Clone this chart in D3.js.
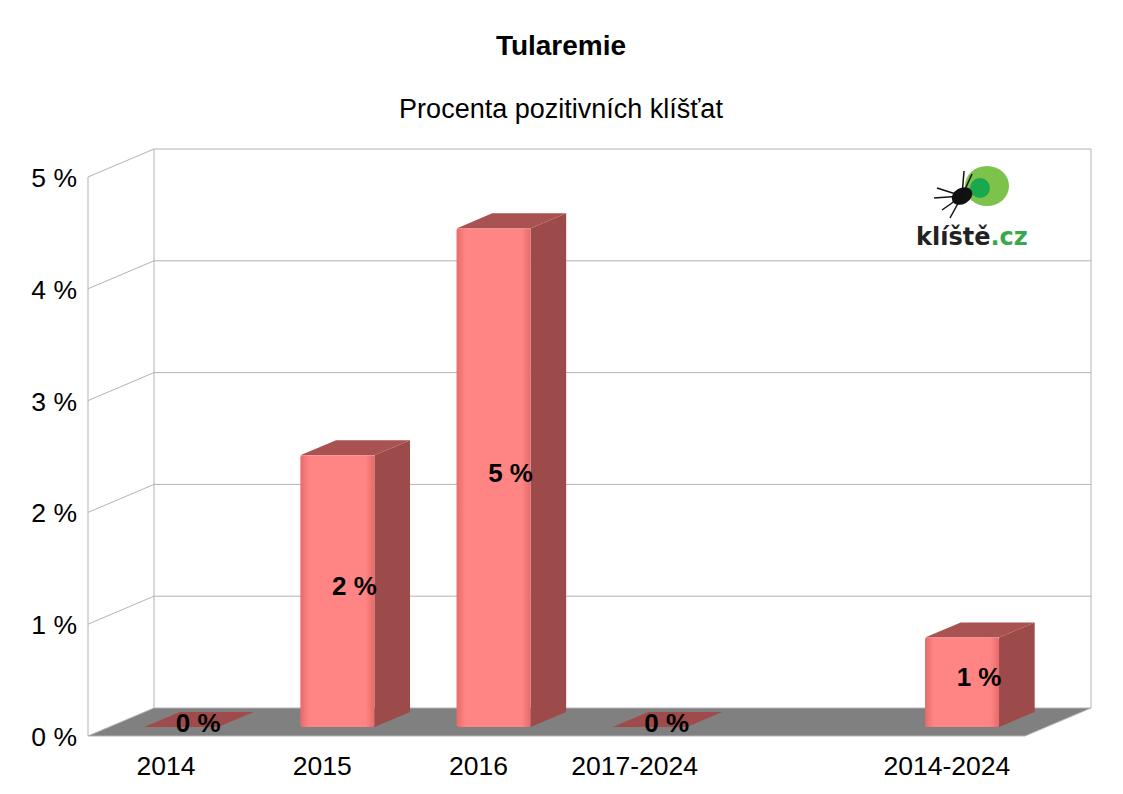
<!DOCTYPE html><html><head><meta charset="utf-8">
<script src="https://cdnjs.cloudflare.com/ajax/libs/d3/7.8.5/d3.min.js"></script>
<style>body{margin:0;background:#fff}</style></head><body>
<svg id="c" width="1123" height="794"></svg>
<script>
const categories=["2014","2015","2016","2017-2024","","2014-2024"];
const values=[0,2.43,4.46,0,null,0.8];
const labels=["0 %","2 %","5 %","0 %","","1 %"];
const ticks=[0,1,2,3,4,5];
const svg=d3.select("#c"),F="Liberation Sans, Arial, sans-serif";
const x0=88,x1=1025,yb=736,DX=66,DY=-28;
const y=d3.scaleLinear().domain([0,5]).range([736,177]);
const x=d3.scaleBand().domain(categories).range([x0,x1]);
svg.append("text").attr("x",561).attr("y",55).attr("text-anchor","middle").attr("font-family",F).attr("font-weight","bold").attr("font-size",28).text("Tularemie");
svg.append("text").attr("x",561).attr("y",118).attr("text-anchor","middle").attr("font-family",F).attr("font-size",27).text("Procenta pozitivních klíšťat");
svg.append("path").attr("d",`M${x0},${yb}L${x0+DX},${yb+DY}L${x1+DX},${yb+DY}L${x1},${yb}Z`).attr("fill","#808080");
const g="#b3b3b3";
svg.append("path").attr("d",`M${x0+DX},${yb+DY}V${y(5)+DY}M${x1+DX},${yb+DY}V${y(5)+DY}`).attr("stroke",g).attr("fill","none");
ticks.forEach(t=>{
  svg.append("path").attr("d",`M${x0},${y(t)}L${x0+DX},${y(t)+DY}H${x1+DX}`).attr("stroke",g).attr("fill","none");
  svg.append("text").attr("x",77).attr("y",y(t)+10).attr("text-anchor","end").attr("font-family",F).attr("font-size",26.5).text(t+" %");
});
svg.append("line").attr("x1",x0).attr("x2",x0).attr("y1",yb).attr("y2",y(5)).attr("stroke",g);
svg.append("line").attr("x1",x0).attr("x2",x1).attr("y1",yb).attr("y2",yb).attr("stroke",g);
svg.append("line").attr("x1",x1).attr("x2",x1+DX).attr("y1",yb).attr("y2",yb+DY).attr("stroke",g);
categories.forEach(c=>{ if(c) svg.append("text").attr("x",x(c)+x.bandwidth()/2).attr("y",775).attr("text-anchor","middle").attr("font-family",F).attr("font-size",26.5).text(c);});
const defs=svg.append("defs");
const lg=defs.append("linearGradient").attr("id","fr");
[[0,"#e86a6a"],[0.12,"#ff8585"],[0.88,"#ff8585"],[1,"#e86a6a"]].forEach(s=>lg.append("stop").attr("offset",s[0]).attr("stop-color",s[1]));
const f0=0.32,f1=0.86,bw=74;
categories.forEach((c,i)=>{
  const v=values[i]; if(v==null) return;
  const xl=x(c)+x.bandwidth()/2-37+DX*f0-6, xr=xl+bw;
  const ox=DX*(f1-f0), oy=DY*(f1-f0);
  const yf=yb+DY*f0, ht=y(v)-y(0), yt=yf+ht;
  if(v===0){
    svg.append("path").attr("d",`M${xl},${yf}L${xl+ox},${yf+oy}L${xr+ox},${yf+oy}L${xr},${yf}Z`).attr("fill","#a04b4b");
  } else {
    svg.append("path").attr("d",`M${xr},${yf}L${xr+ox},${yf+oy}V${yt+oy}L${xr},${yt}Z`).attr("fill","#9c4a4a");
    svg.append("path").attr("d",`M${xl},${yt}L${xl+ox},${yt+oy}H${xr+ox}L${xr},${yt}Z`).attr("fill","#a85252");
    svg.append("rect").attr("x",xl).attr("y",yt).attr("width",bw).attr("height",yf-yt).attr("fill","url(#fr)").attr("rx",2);
  }
  svg.append("text").attr("x",xl+bw/2+17).attr("y",v===0?yf+5:(yf+yt)/2+4).attr("text-anchor","middle").attr("font-family",F).attr("font-weight","bold").attr("font-size",26).text(labels[i]);
});
const L=svg.append("g");
L.append("ellipse").attr("cx",987).attr("cy",186).attr("rx",22).attr("ry",20).attr("fill","#7dc24a");
L.append("circle").attr("cx",980).attr("cy",188).attr("r",10).attr("fill","#1aa84f");
L.append("ellipse").attr("cx",962).attr("cy",196).attr("rx",11).attr("ry",8).attr("fill","#111").attr("transform","rotate(-30 962 196)");
[[-25,-8],[-28,2],[-20,14],[-12,22],[10,-22],[2,-25]].forEach(p=>L.append("line").attr("x1",962).attr("y1",196).attr("x2",962+p[0]).attr("y2",196+p[1]).attr("stroke","#111").attr("stroke-width",1.5));
L.append("text").attr("x",916).attr("y",245).attr("font-family","DejaVu Sans, sans-serif").attr("font-weight","bold").attr("font-size",24).attr("fill","#222").text("klíště").append("tspan").attr("fill","#3aa84a").text(".cz");
</script></body></html>
